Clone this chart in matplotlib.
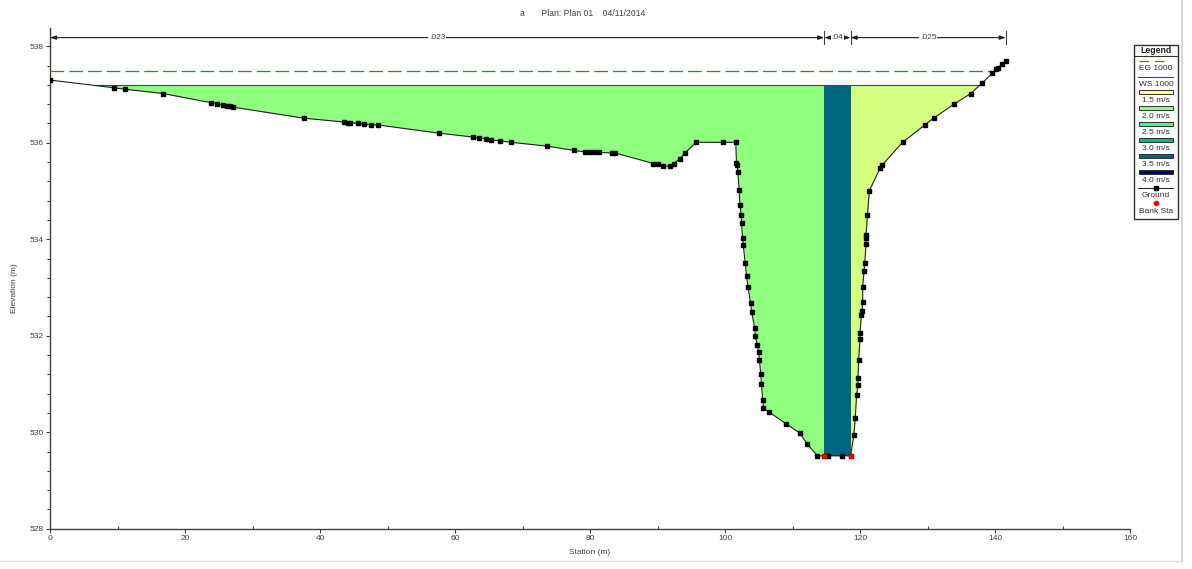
import numpy as np
import matplotlib
matplotlib.use("Agg")
import matplotlib.pyplot as plt
from matplotlib.lines import Line2D
from matplotlib.patches import Rectangle
from matplotlib.ticker import MultipleLocator

plt.rcParams['font.family'] = ['Liberation Sans', 'DejaVu Sans']

# Cross-section ground survey (station m, elevation m)
station = [
    0.0, 9.5, 11.1, 16.8, 23.9, 24.7, 25.7, 26.2, 26.7, 27.1,
    37.6, 43.6, 44.2, 44.5, 45.7, 46.5, 47.6, 48.6, 57.6, 62.6,
    63.6, 64.6, 65.3, 66.6, 68.3, 73.7, 77.7, 79.3, 80.0, 80.7,
    81.3, 83.2, 83.7, 89.4, 90.1, 90.8, 91.9, 92.4, 93.3, 94.1,
    95.7, 99.7, 101.6, 101.7, 101.8, 101.9, 102.1, 102.2, 102.4, 102.45,
    102.6, 102.7, 103.0, 103.2, 103.4, 103.8, 103.95, 104.4, 104.5, 104.8,
    105.0, 105.1, 105.3, 105.4, 105.6, 105.7, 106.5, 109.0, 111.1, 112.2,
    113.7, 114.7, 115.2, 117.3, 118.6, 119.1, 119.3, 119.5, 119.7, 119.7,
    119.8, 120.0, 120.0, 120.2, 120.3, 120.4, 120.4, 120.6, 120.7, 120.9,
    120.9, 120.9, 121.1, 121.4, 123.0, 123.3, 126.3, 129.6, 130.9, 133.9,
    136.4, 138.1, 139.6, 140.2, 140.4, 141.1, 141.6,
]
elevation = [
    537.30, 537.14, 537.11, 537.02, 536.83, 536.81, 536.78, 536.77, 536.76, 536.74,
    536.51, 536.43, 536.42, 536.42, 536.40, 536.39, 536.37, 536.37, 536.20, 536.12,
    536.10, 536.08, 536.06, 536.04, 536.01, 535.93, 535.84, 535.81, 535.81, 535.81,
    535.80, 535.79, 535.79, 535.57, 535.55, 535.52, 535.51, 535.57, 535.67, 535.79,
    536.01, 536.01, 536.01, 535.59, 535.53, 535.39, 535.02, 534.72, 534.51, 534.33,
    534.02, 533.88, 533.50, 533.23, 533.01, 532.67, 532.49, 532.16, 531.99, 531.80,
    531.66, 531.49, 531.21, 530.99, 530.66, 530.50, 530.42, 530.18, 529.98, 529.75,
    529.51, 529.51, 529.51, 529.51, 529.51, 529.95, 530.30, 530.78, 530.97, 531.13,
    531.49, 531.94, 532.05, 532.42, 532.51, 532.70, 533.01, 533.35, 533.50, 533.91,
    534.02, 534.09, 534.51, 535.01, 535.48, 535.54, 536.01, 536.37, 536.51, 536.80,
    537.02, 537.24, 537.44, 537.52, 537.55, 537.64, 537.70,
]
bank_stations = [114.7, 118.6]
ws_elev = 537.19
eg_elev = 537.48
mannings_n = ['.023', '.04', '.025']

x_ticks = [0, 20, 40, 60, 80, 100, 120, 140, 160]
y_ticks = [528, 530, 532, 534, 536, 538]

zone_colors = ['#90FF80', '#006680', '#D4FF80']
velocity_labels = ['1.5 m/s', '2.0 m/s', '2.5 m/s', '3.0 m/s', '3.5 m/s', '4.0 m/s']
velocity_colors = ['#FFFF80', '#90FF80', '#40FF80', '#00C080', '#006680', '#000080']

title_text = 'a       Plan: Plan 01    04/11/2014'

TXT = '#404040'
W, H = 1192, 569
fig = plt.figure(figsize=(W / 100, H / 100), dpi=100)

AX_L, AX_R, AX_B, AX_T = 50, 1130, 528.7, 28
ax = fig.add_axes([AX_L / W, (H - AX_B) / H, (AX_R - AX_L) / W, (AX_B - AX_T) / H])
ax.set_xlim(0, 160)
ax.set_ylim(528, 538 + (46.3 - AX_T) / 48.24)

x = np.array(station)
z = np.array(elevation)


def crossings(xs, zs, level):
    d = zs - level
    out = []
    for i in range(len(xs) - 1):
        if d[i] * d[i + 1] < 0:
            t = d[i] / (d[i] - d[i + 1])
            out.append(xs[i] + t * (xs[i + 1] - xs[i]))
    return out


# Flow areas: left overbank, main channel, right overbank
edges = [x[0], bank_stations[0], bank_stations[1], x[-1]]
for a, b, c in zip(edges[:-1], edges[1:], zone_colors):
    m = (x >= a) & (x <= b)
    ax.fill_between(x[m], z[m], ws_elev, where=z[m] <= ws_elev,
                    interpolate=True, color=c, lw=0, zorder=1)

# Water surface and energy grade
ws_x = crossings(x, z, ws_elev)
ax.plot([ws_x[0], ws_x[-1]], [ws_elev, ws_elev], color='#3030FF', lw=0.8, zorder=3)
eg_x = crossings(x, z, eg_elev)
ax.plot([x[0], eg_x[-1]], [eg_elev, eg_elev], color='#2E8B2E', lw=0.9,
        dashes=(11, 4), zorder=3)

# Ground and bank stations
ax.plot(x, z, color='#202020', lw=0.8, marker='s', ms=2.6,
        mfc='black', mec='black', zorder=4)
ax.plot(bank_stations, np.interp(bank_stations, x, z), 'o', color='red',
        ms=3, mec='red', zorder=5)

# Manning's n dimension line
y_n = 538.18
for a, b, lab in zip(edges[:-1], edges[1:], mannings_n):
    ax.annotate('', xy=(a, y_n), xytext=(b, y_n),
                arrowprops=dict(arrowstyle='<|-|>,head_length=0.35,head_width=0.12',
                                color='#202020', lw=0.8, shrinkA=0, shrinkB=0),
                zorder=4)
    ax.text((a + b) / 2, y_n, lab, ha='center', va='center', fontsize=6,
            color=TXT, zorder=5,
            bbox=dict(fc='white', ec='none', pad=0.6))
for e in edges:
    ax.plot([e, e], [y_n - 0.14, y_n + 0.14], color='#404040', lw=0.8, zorder=4)

# Axes styling
for s in ['top', 'right']:
    ax.spines[s].set_visible(False)
for s in ['left', 'bottom']:
    ax.spines[s].set_color('#404040')
    ax.spines[s].set_linewidth(1.0)
ax.set_xticks(x_ticks)
ax.set_yticks(y_ticks)
ax.xaxis.set_minor_locator(MultipleLocator(10))
ax.yaxis.set_minor_locator(MultipleLocator(0.4))
ax.tick_params(axis='both', which='major', labelsize=6, labelcolor=TXT,
               color='#404040', length=3, width=0.8, pad=1.5)
ax.tick_params(axis='both', which='minor', color='#404040', length=2.2, width=0.8)
ax.tick_params(axis='x', which='minor', direction='in')


def fx(px):
    return px / W


def fy(py):
    return 1 - py / H


fig.text(fx(590), fy(553), 'Station (m)', fontsize=6, color=TXT,
         ha='center', va='center')
fig.text(fx(15), fy(288), 'Elevation (m)', fontsize=6, color=TXT,
         ha='center', va='center', rotation=90)
fig.text(fx(520), fy(16), title_text, fontsize=6.2, color=TXT,
         ha='left', va='baseline')

# Legend panel
fig.add_artist(Rectangle((fx(1134), fy(219)), (1178 - 1134) / W, (219 - 45) / H,
                         transform=fig.transFigure, fc='white', ec='#303030', lw=1.0))
fig.add_artist(Line2D([fx(1134), fx(1178)], [fy(56), fy(56)],
                      transform=fig.transFigure, color='#303030', lw=0.8))
cx = fx(1156)
fig.text(cx, fy(50.7), 'Legend', fontsize=6.3, fontweight='bold', color='#202020',
         ha='center', va='center')
fig.add_artist(Line2D([fx(1139), fx(1168)], [fy(61), fy(61)],
                      transform=fig.transFigure, color='#2E8B2E', lw=0.9,
                      dashes=(7.5, 5)))
fig.text(cx, fy(69), 'EG 1000', fontsize=6, color='#303030', ha='center', va='center')
fig.add_artist(Line2D([fx(1138), fx(1173)], [fy(77.3), fy(77.3)],
                      transform=fig.transFigure, color='#3030FF', lw=0.8))
fig.text(cx, fy(84), 'WS 1000', fontsize=6, color='#303030', ha='center', va='center')
rect_top = 90.0
step = 16.0
for i, (lab, col) in enumerate(zip(velocity_labels, velocity_colors)):
    yt = rect_top + i * step
    fig.add_artist(Rectangle((fx(1139), fy(yt + 4)), (1173 - 1139) / W, 4 / H,
                             transform=fig.transFigure, fc=col, ec='#303030', lw=0.7))
    fig.text(cx, fy(yt + 10.5), lab, fontsize=6, color='#303030',
             ha='center', va='center')
fig.add_artist(Line2D([fx(1138), fx(1173)], [fy(187.7), fy(187.7)],
                      transform=fig.transFigure, color='#303030', lw=0.8))
fig.add_artist(Line2D([cx], [fy(187.7)], transform=fig.transFigure, marker='s',
                      ms=2.6, color='black', lw=0))
fig.text(cx, fy(195.7), 'Ground', fontsize=6, color='#303030', ha='center', va='center')
fig.add_artist(Line2D([cx], [fy(203.3)], transform=fig.transFigure, marker='o',
                      ms=3, color='red', lw=0))
fig.text(cx, fy(211.7), 'Bank Sta', fontsize=6, color='#303030', ha='center', va='center')

# Window frame edges
fig.add_artist(Line2D([fx(1182), fx(1182)], [fy(0), fy(561)],
                      transform=fig.transFigure, color='#D0D0D0', lw=1.2))
fig.add_artist(Line2D([fx(0), fx(1182)], [fy(561), fy(561)],
                      transform=fig.transFigure, color='#E0E0E0', lw=1.0))

fig.savefig('out.png', dpi=100)
